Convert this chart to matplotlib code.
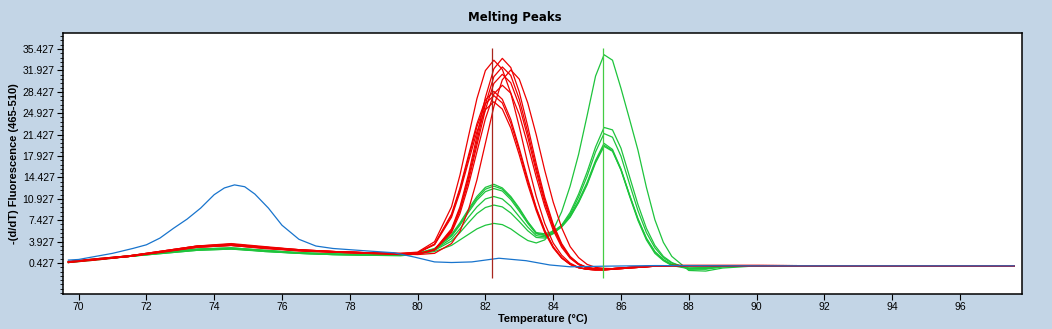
import numpy as np
import matplotlib.pyplot as plt
from matplotlib.ticker import FixedLocator

# temperature grid shared by the red / green sample curves
temps = [69.7, 70.5, 71.5, 72.5, 73.5, 74.5, 75.5, 76.5, 77.5, 78.5, 79.5,
         80.0, 80.5, 81.0, 81.25, 81.5, 81.75, 82.0, 82.25, 82.5, 82.75,
         83.0, 83.25, 83.5, 83.75, 84.0, 84.25, 84.5, 84.75, 85.0, 85.25,
         85.5, 85.75, 86.0, 86.25, 86.5, 86.75, 87.0, 87.25, 87.5, 88.0,
         88.5, 89.0, 90.0, 97.6]

# red samples (peak ~82.2 C)
red_1 = [0.6, 1.0, 1.5, 2.3, 3.1, 3.4, 2.9, 2.5, 2.3, 2.1, 1.9,
         1.9, 2.6, 6.0, 9.6, 14.9, 21.2, 27.5, 32.2, 33.9, 32.4, 28.4, 22.8, 16.7, 11.2, 6.8, 3.6, 1.5, 0.3, -0.3, -0.5,
         -0.6, -0.5, -0.4, -0.3, -0.2, -0.15, -0.1, -0.05, 0.0, 0.0, 0.0, 0.0, 0.0, -0.05]
red_2 = [0.5, 1.0, 1.6, 2.4, 3.2, 3.5, 3.0, 2.6, 2.3, 2.1, 2.0,
         2.2, 3.9, 9.6, 14.8, 21.1, 27.3, 31.9, 33.6, 32.1, 28.2, 22.7, 16.7, 11.3, 6.9, 3.7, 1.7, 0.4, -0.3, -0.6, -0.7,
         -0.7, -0.6, -0.5, -0.4, -0.3, -0.2, -0.1, -0.05, 0.0, 0.0, 0.0, 0.0, 0.0, -0.05]
red_3 = [0.6, 1.1, 1.6, 2.3, 3.0, 3.3, 2.8, 2.5, 2.2, 2.0, 1.9,
         1.9, 2.6, 5.8, 9.3, 14.3, 20.4, 26.4, 30.9, 32.5, 31.1, 27.2, 21.8, 16.0, 10.7, 6.5, 3.4, 1.4, 0.25, -0.35, -0.55,
         -0.6, -0.5, -0.4, -0.3, -0.2, -0.15, -0.1, -0.05, 0.0, 0.0, 0.0, 0.0, 0.0, -0.05]
red_4 = [0.6, 1.0, 1.5, 2.3, 3.1, 3.5, 3.0, 2.6, 2.3, 2.1, 1.9,
         1.8, 2.0, 3.6, 5.6, 9.1, 14.0, 20.0, 26.0, 30.4, 32.0, 30.5, 26.6, 21.4, 15.6, 10.4, 6.2, 3.1, 1.3, 0.2, -0.3,
         -0.45, -0.5, -0.4, -0.3, -0.2, -0.15, -0.1, -0.05, 0.0, 0.0, 0.0, 0.0, 0.0, -0.05]
red_5 = [0.7, 1.1, 1.6, 2.4, 3.2, 3.4, 2.9, 2.5, 2.2, 2.1, 1.9,
         1.9, 2.6, 5.6, 9.0, 13.8, 19.7, 25.5, 29.8, 31.3, 29.9, 26.2, 21.0, 15.4, 10.3, 6.2, 3.3, 1.3, 0.2, -0.35, -0.55,
         -0.6, -0.5, -0.4, -0.3, -0.2, -0.15, -0.1, -0.05, 0.0, 0.0, 0.0, 0.0, 0.0, -0.05]
red_6 = [0.6, 1.0, 1.5, 2.3, 3.0, 3.3, 2.9, 2.4, 2.2, 2.0, 1.8,
         1.9, 2.5, 5.4, 8.5, 13.1, 18.6, 24.0, 28.1, 29.5, 28.2, 24.7, 19.8, 14.5, 9.7, 5.8, 3.0, 1.2, 0.15, -0.4, -0.55,
         -0.6, -0.5, -0.4, -0.3, -0.2, -0.15, -0.1, -0.05, 0.0, 0.0, 0.0, 0.0, 0.0, -0.05]
red_7 = [0.5, 0.9, 1.5, 2.3, 3.1, 3.4, 3.0, 2.5, 2.3, 2.1, 2.0,
         2.1, 3.5, 8.4, 12.7, 18.0, 23.2, 27.1, 28.5, 27.2, 23.9, 19.2, 14.2, 9.5, 5.8, 3.1, 1.3, 0.2, -0.35, -0.6, -0.7,
         -0.7, -0.6, -0.5, -0.4, -0.3, -0.2, -0.1, -0.05, 0.0, 0.0, 0.0, 0.0, 0.0, -0.05]
red_8 = [0.6, 1.0, 1.6, 2.4, 3.2, 3.6, 3.1, 2.6, 2.3, 2.1, 1.9,
         2.1, 3.5, 8.2, 12.4, 17.6, 22.7, 26.5, 27.8, 26.6, 23.3, 18.8, 13.8, 9.3, 5.65, 3.0, 1.3, 0.2, -0.35, -0.6, -0.7,
         -0.7, -0.6, -0.5, -0.4, -0.3, -0.2, -0.1, -0.05, 0.0, 0.0, 0.0, 0.0, 0.0, -0.05]
red_9 = [0.6, 1.0, 1.5, 2.2, 3.0, 3.3, 2.8, 2.4, 2.2, 2.0, 1.9,
         2.1, 3.4, 7.9, 12.0, 17.0, 21.9, 25.5, 26.8, 25.6, 22.5, 18.1, 13.3, 9.0, 5.4, 2.9, 1.2, 0.2, -0.35, -0.6, -0.7,
         -0.7, -0.6, -0.5, -0.4, -0.3, -0.2, -0.1, -0.05, 0.0, 0.0, 0.0, 0.0, 0.0, -0.05]

# green samples (small peak ~82.2 C, main peak ~85.5 C)
green_1 = [0.6, 1.0, 1.5, 2.1, 2.6, 2.8, 2.4, 2.1, 1.9, 1.8, 1.7,
           2.0, 2.8, 5.1, 7.0, 9.2, 11.3, 12.8, 13.3, 12.7, 11.3, 9.4, 7.2, 5.4, 5.2, 5.6, 6.6, 8.2, 10.6, 13.6, 17.2,
           20.0, 19.0, 15.8, 11.6, 7.6, 4.4, 2.2, 0.9, 0.1, -0.4, -0.3, -0.1, -0.05, -0.05]
green_2 = [0.5, 0.9, 1.5, 2.0, 2.5, 2.7, 2.3, 2.0, 1.8, 1.7, 1.7,
           2.0, 2.7, 4.9, 6.8, 9.0, 11.0, 12.5, 13.0, 12.5, 11.1, 9.2, 7.1, 5.3, 5.0, 5.4, 6.4, 8.0, 10.4, 13.4, 17.0,
           19.7, 18.8, 15.6, 11.4, 7.4, 4.2, 2.0, 0.8, 0.0, -0.5, -0.4, -0.1, -0.05, -0.05]
green_3 = [0.6, 1.0, 1.6, 2.2, 2.7, 2.9, 2.5, 2.1, 1.9, 1.8, 1.8,
           2.0, 2.7, 4.8, 6.6, 8.7, 10.7, 12.1, 12.6, 12.2, 10.8, 8.9, 6.9, 5.2, 4.9, 5.3, 6.3, 7.9, 10.3, 13.2, 16.8,
           19.5, 18.7, 15.7, 11.6, 7.7, 4.5, 2.3, 1.0, 0.2, -0.4, -0.4, -0.1, -0.05, -0.05]
green_4 = [0.6, 1.0, 1.5, 2.1, 2.6, 2.8, 2.3, 2.0, 1.8, 1.7, 1.6,
           1.9, 2.6, 4.4, 6.0, 7.9, 9.6, 10.9, 11.3, 10.9, 9.7, 8.0, 6.3, 4.9, 4.7, 5.3, 6.5, 8.4, 11.2, 14.6, 18.6,
           21.6, 21.0, 17.9, 13.4, 9.0, 5.4, 2.9, 1.3, 0.4, -0.5, -0.5, -0.2, -0.05, -0.05]
green_5 = [0.5, 1.0, 1.5, 2.0, 2.5, 2.7, 2.4, 2.0, 1.8, 1.7, 1.7,
           1.9, 2.5, 4.0, 5.4, 7.0, 8.5, 9.5, 9.9, 9.6, 8.6, 7.2, 5.7, 4.6, 4.5, 5.2, 6.6, 8.7, 11.7, 15.3, 19.4,
           22.6, 22.2, 19.2, 14.6, 10.0, 6.1, 3.3, 1.5, 0.5, -0.6, -0.6, -0.2, -0.05, -0.05]
green_6 = [0.6, 1.1, 1.6, 2.2, 2.7, 2.9, 2.5, 2.1, 1.9, 1.8, 1.7,
           1.9, 2.3, 3.3, 4.2, 5.1, 6.0, 6.6, 6.9, 6.7, 6.0, 5.0, 4.1, 3.7, 4.2, 5.8, 8.8, 13.0, 18.2, 24.5, 31.0,
           34.5, 33.6, 29.0, 24.0, 18.9, 12.8, 7.5, 3.8, 1.5, -0.8, -0.9, -0.4, -0.05, -0.05]

# blue sample (single peak ~74.6 C)
blue_temps = [69.7, 70.0, 71.0, 71.6, 72.0, 72.4, 72.8, 73.2, 73.6, 74.0, 74.3, 74.6,
              74.9, 75.2, 75.6, 76.0, 76.5, 77.0, 77.5, 78.0, 78.5, 79.3, 79.9, 80.5,
              81.0, 81.6, 82.0, 82.4, 82.8, 83.2, 83.9, 84.5, 85.5, 87.0, 90.0, 97.6]
blue_vals = [0.9, 1.0, 2.0, 2.8, 3.4, 4.5, 6.1, 7.6, 9.4, 11.6, 12.7, 13.2,
             12.9, 11.7, 9.4, 6.6, 4.3, 3.2, 2.8, 2.6, 2.4, 2.1, 1.4, 0.6,
             0.5, 0.6, 0.9, 1.2, 1.0, 0.8, 0.1, -0.2, -0.1, 0.0, -0.05, -0.05]

red_curves = [red_1, red_2, red_3, red_4, red_5, red_6, red_7, red_8, red_9]
green_curves = [green_1, green_2, green_3, green_4, green_5, green_6]

peak_tm = [82.19, 85.48]
y_ticks = [0.427, 3.927, 7.427, 10.927, 14.427, 17.927, 21.427, 24.927, 28.427, 31.927, 35.427]
x_ticks = [70, 72, 74, 76, 78, 80, 82, 84, 86, 88, 90, 92, 94, 96]

bg = '#C3D5E6'
tick_font = ['Liberation Sans', 'DejaVu Sans']

fig = plt.figure(figsize=(10.52, 3.29), dpi=100, facecolor=bg)
ax = fig.add_axes([63 / 1052, 1 - 294 / 329, (1022 - 63) / 1052, (294 - 33) / 329])
ax.set_facecolor('white')

for ys in green_curves:
    ax.plot(temps, ys, color='#1EC43C', lw=0.9, zorder=2)
for ys in red_curves:
    ax.plot(temps, ys, color='#EE0000', lw=0.9, zorder=3)
ax.plot(blue_temps, blue_vals, color='#1874CD', lw=0.9, zorder=4)

ax.vlines(peak_tm, -2.0, 35.6, colors=['#A8261E', '#44CC44'], lw=0.9, zorder=5)

ax.set_xlim(69.54, 97.83)
ax.set_ylim(-4.65, 38.05)
ax.set_xticks(x_ticks)
ax.set_yticks(y_ticks)
ax.set_yticklabels([f'{v:.3f}' for v in y_ticks])
ax.yaxis.set_minor_locator(FixedLocator(np.arange(0.427 - 7.0, 38.0, 0.7)))

ax.tick_params(axis='both', which='major', direction='out', length=4, width=0.8,
               labelsize=7.5, colors='black', pad=2)
ax.tick_params(axis='y', which='minor', direction='out', length=2.5, width=0.6)
for lab in ax.get_xticklabels() + ax.get_yticklabels():
    lab.set_family(tick_font)

for sp in ax.spines.values():
    sp.set_linewidth(1.1)
    sp.set_color('black')

ax.set_xlabel('Temperature (\u00b0C)', fontsize=8, fontweight='bold',
              family=['Liberation Sans', 'DejaVu Sans'], labelpad=1)
ax.set_ylabel('-(d/dT) Fluorescence (465-510)', fontsize=8, fontweight='bold',
              family=['Liberation Sans', 'DejaVu Sans'])
ax.yaxis.set_label_coords(-0.0459, 0.5)
fig.text(515 / 1052, 1 - 18 / 329, 'Melting Peaks', ha='center', va='center',
         fontsize=8.5, fontweight='bold', family=['DejaVu Sans'])

fig.savefig('out.png', dpi=100, facecolor=bg)
